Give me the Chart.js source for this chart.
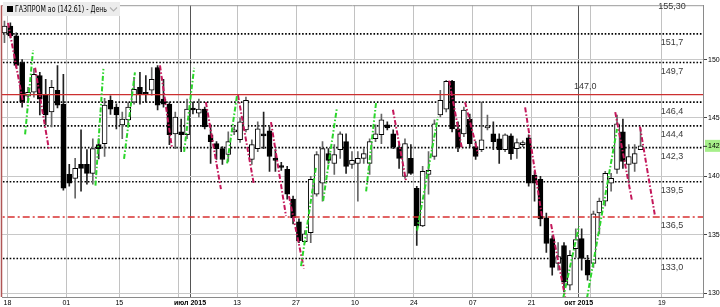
<!DOCTYPE html>
<html><head><meta charset="utf-8">
<script src="https://cdn.jsdelivr.net/npm/chart.js@4.4.1/dist/chart.umd.min.js"></script>
<style>html,body{margin:0;padding:0;background:#fff}#wrap{width:720px;height:307px;position:relative}</style>
</head><body><div id="wrap"><canvas id="c" width="720" height="307"></canvas></div>
<script>
// ---- DATA (trading day index = array position, 0 = 15 May 2015) ----
const opens = [152.29,152.88,152.03,149.75,146.86,147.2,148.64,147.03,145.51,147.37,
146.19,140.17,139.83,141.02,141.02,140.25,142.71,142.8,146.52,145.93,
144.41,144.83,146.36,147.63,147.2,147.37,149.32,146.61,146.19,143.64,
143.81,143.56,145.85,145.42,145.76,143.56,142.8,142.37,141.87,143.81,
143.13,143.98,141.44,142.37,143.64,143.9,141.53,140.93,140.59,138.05,
136.1,134.4,135.17,138.47,139.41,141.95,141.1,142.29,142.97,141.02,
141.1,141.53,141.1,143.22,143.56,144.41,143.64,142.46,140.0,141.53,
138.98,135.76,140.17,141.7,145.25,145.76,148.13,144.07,143.64,144.91,
142.54,142.29,144.15,143.64,143.22,142.29,143.47,142.37,142.71,143.3,
140.08,139.74,136.44,134.66,132.54,134.07,130.68,133.81,134.66,132.8,
132.54,136.86,137.88,139.41,140.59,143.81,141.02,141.1,142.29];
const highs = [153.3,153.14,152.29,150.0,147.63,149.24,148.9,148.3,148.22,149.49,
148.73,141.02,141.53,143.98,142.29,143.22,143.22,146.69,146.9,146.2,
145.51,146.36,148.47,148.9,148.64,149.32,149.49,148.3,146.36,145.51,
144.91,146.61,146.36,146.61,145.93,144.41,142.97,142.54,143.81,144.24,
145.0,146.78,143.13,144.66,145.51,144.24,142.29,141.2,140.85,138.3,
136.35,135.34,140.0,142.12,142.97,142.37,142.71,143.81,143.64,142.12,
142.12,142.37,143.22,144.41,145.34,144.66,143.98,142.71,143.22,142.71,
139.15,140.85,142.12,144.83,147.37,148.22,148.22,144.66,145.93,145.34,
142.97,146.36,145.25,144.66,143.64,143.64,143.64,143.22,143.05,143.56,
140.42,140.0,136.86,134.91,134.32,134.32,133.64,135.51,135.51,133.22,
137.03,138.13,140.42,140.25,145.25,144.91,142.71,142.71,144.07];
const lows = [151.44,151.86,149.32,145.93,146.36,146.78,145.25,144.41,144.24,145.85,
138.81,139.15,138.13,138.73,139.32,139.32,141.5,141.7,145.3,144.07,
143.22,144.41,146.19,146.19,146.36,146.95,145.68,145.93,142.71,142.37,
142.12,143.22,145.34,145.08,144.07,141.1,141.44,141.02,141.27,143.56,
142.9,143.8,141.02,142.12,142.37,140.42,140.42,140.5,138.05,135.93,
134.32,134.32,134.32,138.3,137.88,141.1,140.17,141.53,140.25,140.68,
137.88,141.1,140.17,142.97,142.8,143.98,142.37,140.68,139.83,140.17,
134.07,135.68,138.47,141.44,145.08,145.51,143.81,142.12,143.39,142.54,
141.44,142.12,143.98,142.29,141.1,142.12,141.44,141.53,142.54,139.15,
137.88,135.76,133.47,131.52,131.95,130.09,130.26,133.05,131.95,131.1,
132.2,135.08,137.46,138.73,140.25,140.68,139.41,140.42,142.29];
const closes = [152.88,152.03,149.49,146.36,147.2,148.73,146.61,145.25,147.63,146.1,
138.98,139.41,140.68,140.68,140.25,142.37,142.37,146.1,145.76,145.25,
144.91,145.93,147.46,147.03,147.03,148.3,146.1,146.19,143.56,145.08,
143.56,145.76,145.68,145.76,144.24,142.97,142.37,141.44,142.97,143.98,
144.66,146.52,142.71,144.07,143.47,141.7,141.36,140.76,138.47,136.44,
134.49,135.08,139.74,141.87,142.37,141.36,141.87,143.64,140.85,141.36,
141.53,141.95,142.97,143.64,144.83,144.15,142.54,141.53,142.8,140.25,
135.76,140.42,140.51,144.49,146.52,148.13,144.07,142.54,145.68,142.8,
141.7,143.13,144.32,142.97,142.29,143.56,141.95,142.88,142.88,139.41,
139.41,136.35,134.24,132.2,133.13,130.93,133.22,134.57,132.96,131.52,
136.78,137.88,140.25,139.83,144.49,141.27,141.7,141.95,142.61];

const lastPrice = 142.61;
const titleText = 'ГАЗПРОМ ао (142.61) - День';

// x grid lines (between trading days) and their labels
const gridDays   = [0.5, 10.5, 19.5, 29.5, 31.5, 39.5, 49.5, 59.5, 69.5, 79.5, 89.5, 97.5, 99.5, 111.6];
const gridLabels = ['18','01','15','','июл 2015','13','27','10','24','07','21','окт 2015','','19'];
const monthLabels = ['июл 2015','окт 2015'];
const yTicks = [130,135,140,145,150];

// user level lines
const dottedLevels = [152.2,149.75,146.36,144.32,142.46,139.53,132.96];
const solidRedLevel = 147.0;
const dashDotRedLevel = 136.52;
const rightLabelValues = [155.3,152.2,149.75,146.36,144.32,142.46,139.53,136.52,132.96];
const rightLabelTexts  = ['155,30','151,7','149,7','146,4','144,4','142,3','139,5','136,5','133,0'];
const redLabelText = '147,0';

// indicator segments [day1, price1, day2, price2]
const greenSegments = [
 [3.5,143.6,4.85,150.8],[15.45,139.2,16.8,149.2],[20.3,141.5,22.15,148.9],
 [30.5,142.1,32.2,149.3],[37.8,141.1,39.5,147.0],[50.35,132.3,52.9,140.85],
 [54.1,137.9,56.45,145.9],[61.4,138.7,63.1,146.35],[70.05,135.35,73.6,145.1],
 [94.85,129.55,97.55,135.75],[98.9,129.55,104.0,144.05]];
const crimsonSegments = [
 [0.6,153.15,3.15,146.35],[5.2,149.3,7.55,142.3],[26.4,149.5,28.45,142.4],
 [34.2,146.35,36.75,138.9],[39.65,146.95,42.35,139.3],[45.25,144.65,47.8,136.6],
 [48.3,138.3,50.85,132.1],[65.95,145.7,68.2,139.55],[75.5,148.2,77.7,142.3],
 [78.2,146.35,80.4,141.95],[88.4,145.9,91.3,136.4],[92.8,135.9,95.2,129.65],
 [103.7,145.5,106.55,137.9],[107.9,144.25,110.45,136.6]];

// ---- BUILD ----
const up = opens.map((o,i)=>closes[i]>=o);
const wickData = highs.map((h,i)=>({x:i, y:[lows[i], h]}));
const bodyData = opens.map((o,i)=>({x:i, y:[Math.min(o,closes[i]), Math.max(o,closes[i])]}));

const datasets = [];
datasets.push({type:'bar', data:wickData, grouped:false, barThickness:1,
  backgroundColor: up.map(u=>u?'#666':'#222'), borderWidth:0, order:5});
datasets.push({type:'bar', data:bodyData, grouped:false, barThickness:5,
  backgroundColor: up.map(u=>u?'#ffffff':'#000000'), borderColor:'#000', borderWidth:1,
  borderSkipped:false, minBarLength:1, order:4});
dottedLevels.forEach(v=>datasets.push({type:'line', data:[{x:-2,y:v},{x:125,y:v}],
  borderColor:'#000', borderWidth:1.6, borderDash:[1.6,1.8], pointRadius:0, order:10}));
datasets.push({type:'line', data:[{x:-2,y:solidRedLevel},{x:125,y:solidRedLevel}],
  borderColor:'#cc3030', borderWidth:1.4, pointRadius:0, order:3});
datasets.push({type:'line', data:[{x:-2,y:dashDotRedLevel},{x:125,y:dashDotRedLevel}],
  borderColor:'#d83030', borderWidth:1.4, borderDash:[7,3,2,3], pointRadius:0, order:3});
greenSegments.forEach(s=>datasets.push({type:'line', data:[{x:s[0],y:s[1]},{x:s[2],y:s[3]}],
  borderColor:'#2bd62b', borderWidth:2, borderDash:[5,2,1.5,2], pointRadius:0, order:1}));
crimsonSegments.forEach(s=>datasets.push({type:'line', data:[{x:s[0],y:s[1]},{x:s[2],y:s[3]}],
  borderColor:'#c4175a', borderWidth:2, borderDash:[5,2,1.5,2], pointRadius:0, order:1}));

const overlay = {
  id:'overlay',
  afterDraw(chart){
    const {ctx, chartArea:a, scales:{x, y}} = chart;
    ctx.save();
    ctx.strokeStyle='#9a9a9a'; ctx.lineWidth=1;
    ctx.beginPath(); ctx.moveTo(a.left, a.top+0.5); ctx.lineTo(a.right, a.top+0.5); ctx.stroke();
    ctx.strokeStyle='#b05656'; ctx.lineWidth=1.5;
    ctx.beginPath(); ctx.moveTo(1.5, a.top); ctx.lineTo(1.5, a.bottom); ctx.stroke();
    ctx.fillStyle='#3a3a3a'; ctx.font='9px "Liberation Sans", Arial, sans-serif';
    ctx.textAlign='center'; ctx.textBaseline='middle';
    rightLabelValues.forEach((v,i)=>{
      ctx.fillText(rightLabelTexts[i], a.right-31, y.getPixelForValue(v)+9);
    });
    ctx.fillText(redLabelText, x.getPixelForValue(98.6), y.getPixelForValue(solidRedLevel)-8);
    const py = y.getPixelForValue(lastPrice);
    ctx.fillStyle='#a6ef8a'; ctx.fillRect(a.right+2, py-6, 20, 12);
    ctx.strokeStyle='#333'; ctx.lineWidth=1;
    ctx.beginPath(); ctx.moveTo(a.right, py+0.5); ctx.lineTo(a.right+4, py+0.5); ctx.stroke();
    ctx.fillStyle='#000'; ctx.font='7px "Liberation Sans", Arial, sans-serif';
    ctx.textAlign='left'; ctx.fillText(String(lastPrice).replace('.',','), a.right+5, py);
    ctx.fillStyle='#ececec'; ctx.fillRect(3, 2, 117, 14);
    ctx.fillStyle='#000'; ctx.fillRect(7, 6, 6, 6);
    ctx.font='8px "DejaVu Sans", sans-serif'; ctx.textBaseline='middle';
    ctx.fillText(titleText, 15, 9.5, 92);
    ctx.strokeStyle='#b0b0b0'; ctx.lineWidth=1.1;
    ctx.beginPath(); ctx.moveTo(110,7.5); ctx.lineTo(113.5,11); ctx.lineTo(117,7.5); ctx.stroke();
    ctx.restore();
  }
};

new Chart(document.getElementById('c'), {
  type:'bar',
  data:{datasets},
  options:{
    responsive:false, animation:false, events:[],
    layout:{padding:{left:2, top:2, right:0, bottom:0}},
    plugins:{legend:{display:false}, tooltip:{enabled:false}},
    scales:{
      x:{type:'linear', min:-0.42, max:118.6, offset:false,
        afterBuildTicks:(s)=>{ s.ticks = gridDays.map(v=>({value:v})); },
        afterFit:(s)=>{ s.height = 10; },
        grid:{offset:false, drawTicks:false, lineWidth:1,
          color:(c)=> monthLabels.includes(gridLabels[c.index]) ? '#555' : '#c2c2c2'},
        border:{display:true, color:'#8a8a8a'},
        ticks:{autoSkip:false, maxRotation:0, padding:2, color:'#000',
          callback:(v,i)=>gridLabels[i],
          font:(c)=>({family:'"Liberation Sans", Arial, sans-serif', size:7,
            weight: monthLabels.includes(gridLabels[c.index]) ? 'bold':'normal'})}
      },
      y:{type:'linear', position:'right', min:129.66, max:154.66,
        afterBuildTicks:(s)=>{ s.ticks = yTicks.map(v=>({value:v})); },
        afterFit:(s)=>{ s.width = 17; },
        grid:{color:'#c8c8c8', tickLength:4, tickColor:'#444'},
        border:{display:true, color:'#8a8a8a'},
        ticks:{padding:1, color:'#000', callback:(v)=>String(v),
          font:{family:'"Liberation Sans", Arial, sans-serif', size:7}}
      }
    }
  },
  plugins:[overlay]
});
</script>
</body></html>
